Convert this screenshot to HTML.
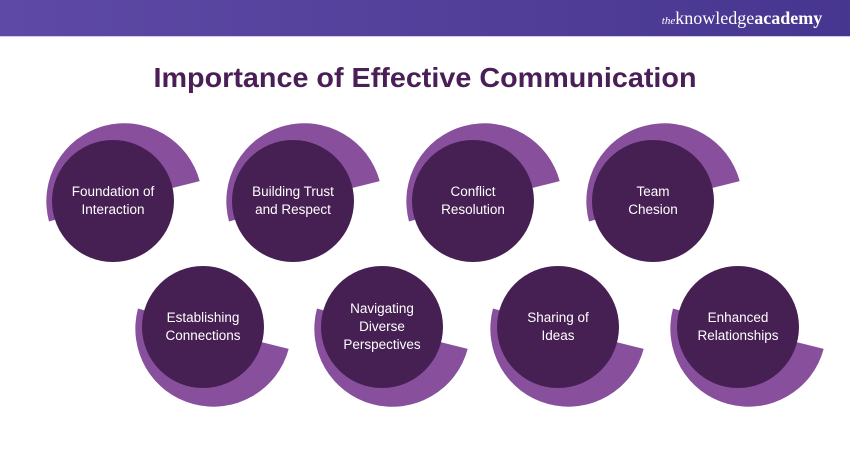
<!DOCTYPE html>
<html><head><meta charset="utf-8"><style>
html,body{margin:0;padding:0;background:#fff;width:850px;height:450px;overflow:hidden}
svg{display:block}
text{font-family:"Liberation Sans",sans-serif}
text.logo{font-family:"Liberation Serif",serif}
</style></head><body>
<svg width="850" height="450" viewBox="0 0 850 450" xmlns="http://www.w3.org/2000/svg">
<defs><linearGradient id="g" x1="0" x2="1"><stop offset="0" stop-color="#5e4aa6"/><stop offset="1" stop-color="#473690"/></linearGradient></defs>
<rect x="0" y="0" width="850" height="36" fill="url(#g)"/>
<rect x="0" y="36" width="850" height="1" fill="#cfc8e6"/>
<text class="logo" x="742" y="24" text-anchor="middle" fill="#fff" font-size="18"><tspan font-style="italic" font-size="11">the</tspan>knowledge<tspan font-weight="bold">academy</tspan></text>
<text x="425" y="87" text-anchor="middle" fill="#4a1f57" font-size="28" font-weight="bold" textLength="543" lengthAdjust="spacingAndGlyphs">Importance of Effective Communication</text>

<g fill="#874f9c">
<path d="M124,200 L49,221.5 A78 78 0 1 1 199.7,181.1 Z"/>
<path d="M304,200 L229,221.5 A78 78 0 1 1 379.7,181.1 Z"/>
<path d="M484,200 L409,221.5 A78 78 0 1 1 559.7,181.1 Z"/>
<path d="M664,200 L589,221.5 A78 78 0 1 1 739.7,181.1 Z"/>
<path d="M213,330 L288.7,348.9 A78 78 0 1 1 138,308.5 Z"/>
<path d="M392,330 L467.7,348.9 A78 78 0 1 1 317,308.5 Z"/>
<path d="M568,330 L643.7,348.9 A78 78 0 1 1 493,308.5 Z"/>
<path d="M748,330 L823.7,348.9 A78 78 0 1 1 673,308.5 Z"/>
</g>
<g fill="#461f53">
<circle cx="113" cy="201" r="61"/>
<circle cx="293" cy="201" r="61"/>
<circle cx="473" cy="201" r="61"/>
<circle cx="653" cy="201" r="61"/>
<circle cx="203" cy="327" r="61"/>
<circle cx="382" cy="327" r="61"/>
<circle cx="558" cy="327" r="61"/>
<circle cx="738" cy="327" r="61"/>
</g>
<g fill="#fff" font-size="13.5" text-anchor="middle">
<text x="113" y="196">Foundation of</text><text x="113" y="214">Interaction</text>
<text x="293" y="196">Building Trust</text><text x="293" y="214">and Respect</text>
<text x="473" y="196">Conflict</text><text x="473" y="214">Resolution</text>
<text x="653" y="196">Team</text><text x="653" y="214">Chesion</text>
<text x="203" y="322">Establishing</text><text x="203" y="340">Connections</text>
<text x="382" y="313">Navigating</text><text x="382" y="331">Diverse</text><text x="382" y="349">Perspectives</text>
<text x="558" y="322">Sharing of</text><text x="558" y="340">Ideas</text>
<text x="738" y="322">Enhanced</text><text x="738" y="340">Relationships</text>
</g>
</svg>
</body></html>
